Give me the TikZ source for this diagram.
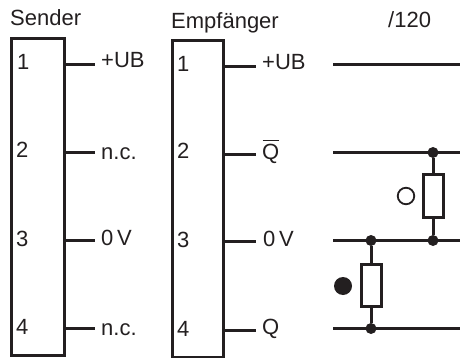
\documentclass[tikz,border=0pt]{standalone}
\usepackage{fontspec}
\setmainfont{Liberation Sans}
\definecolor{ink}{HTML}{231F20}
\tikzset{
  x=1pt,y=-1pt,
  wire/.style={draw=ink,line width=3pt},
  blockbox/.style={draw=ink,line width=3pt,inner sep=0pt,fill=white},
  res/.style={draw=ink,line width=3pt,fill=white,inner sep=0pt,minimum width=20pt,minimum height=42pt},
  dot/.style={circle,fill=ink,inner sep=0pt,minimum size=11pt},
  lab/.style={anchor=base west,inner sep=0pt,font=\fontsize{22}{26}\selectfont,text=ink},
}
\begin{document}
\begin{tikzpicture}
\useasboundingbox (0,0) rectangle (460,358);
% blocks
\node[blockbox,minimum width=53pt,minimum height=316pt] (S) at (37.5,197) {};
\node[blockbox,minimum width=51pt,minimum height=316pt] (E) at (198,199) {};
% titles
\node[lab] (ts) at (10,26) {Sender};
\node[lab] (te) at (171,29) {Empfänger};
\node[lab] (tr) at (388,28) {/120};
% pin numbers
\node[lab] (s1) at (17,70) {1};
\node[lab] (s2) at (16,158) {2};
\node[lab] (s3) at (16,246) {3};
\node[lab] (s4) at (16,334) {4};
\node[lab] (e1) at (177,72) {1};
\node[lab] (e2) at (177,159) {2};
\node[lab] (e3) at (177,247) {3};
\node[lab] (e4) at (177,336) {4};
% signal labels
\node[lab] (ls1) at (101,68) {+UB};
\node[lab] (ls2) at (101,160) {n.c.};
\node[lab] (ls3) at (101,245) {0\,V};
\node[lab] (ls4) at (101,335) {n.c.};
\node[lab] (le1) at (262,70) {+UB};
\node[lab] (le2) at (262,160) {Q};
\draw[ink,line width=1.6pt] (262.5,140.5) -- (279,140.5);
\node[lab] (le3) at (263,246) {0\,V};
\node[lab] (le4) at (262,334) {Q};
% stub ends
\coordinate (as1) at (95,64.5);
\coordinate (as2) at (95,152.5);
\coordinate (as3) at (95,240.5);
\coordinate (as4) at (95,328.5);
\coordinate (ae1) at (256,66.5);
\coordinate (ae2) at (256,154.5);
\coordinate (ae3) at (256,241.5);
\coordinate (ae4) at (256,330.5);
\draw[wire] (S.east |- as1) -- (as1);
\draw[wire] (S.east |- as2) -- (as2);
\draw[wire] (S.east |- as3) -- (as3);
\draw[wire] (S.east |- as4) -- (as4);
\draw[wire] (E.east |- ae1) -- (ae1);
\draw[wire] (E.east |- ae2) -- (ae2);
\draw[wire] (E.east |- ae3) -- (ae3);
\draw[wire] (E.east |- ae4) -- (ae4);
% bus lines
\coordinate (b1l) at (333,64.5); \coordinate (b1r) at (460,64.5);
\coordinate (b2l) at (333,152.5); \coordinate (b2r) at (460,152.5);
\coordinate (b3l) at (333,240.5); \coordinate (b3r) at (460,240.5);
\coordinate (b4l) at (333,328.5); \coordinate (b4r) at (460,328.5);
\draw[wire] (b1l) -- (b1r);
\draw[wire] (b2l) -- (b2r);
\draw[wire] (b3l) -- (b3r);
\draw[wire] (b4l) -- (b4r);
% junctions
\node[dot] (j1) at (433,152.5) {};
\node[dot] (j2) at (433,240.5) {};
\node[dot] (j3) at (371,240.5) {};
\node[dot] (j4) at (371,328.5) {};
% resistors
\node[res] (r1) at (433,196) {};
\node[res] (r2) at (371,285) {};
\draw[wire] (j1) -- (r1);
\draw[wire] (r1) -- (j2);
\draw[wire] (j3) -- (r2);
\draw[wire] (r2) -- (j4);
% LED symbols
\node[circle,draw=ink,line width=1.8pt,minimum size=16.5pt,inner sep=0pt] (off) at (406,196) {};
\node[circle,fill=ink,minimum size=18pt,inner sep=0pt] (on) at (343,286) {};
\end{tikzpicture}
\end{document}
